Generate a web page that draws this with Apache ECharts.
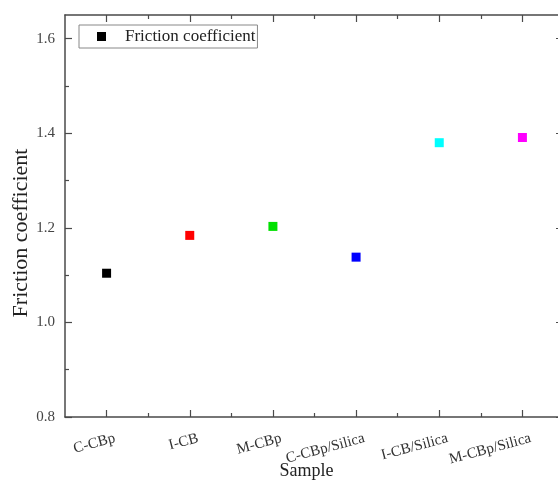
<!DOCTYPE html>
<html>
<head>
<meta charset="utf-8">
<script src="https://cdn.jsdelivr.net/npm/echarts@6/dist/echarts.min.js"></script>
<style>html,body{margin:0;padding:0;background:#fff}#c{width:558px;height:484px}</style>
</head>
<body>
<div id="c"></div>
<script>
const categories = ['C-CBp', 'I-CB', 'M-CBp', 'C-CBp/Silica', 'I-CB/Silica', 'M-CBp/Silica'];
const frictionValues = [1.104, 1.184, 1.203, 1.138, 1.380, 1.391];
const pointColors = ['#000000', '#ff0000', '#00e000', '#0000ff', '#00ffff', '#ff00ff'];
const yTickLabels = [0.8, 1.0, 1.2, 1.4, 1.6];
const yMinorTicks = [0.9, 1.1, 1.3, 1.5];
const seriesName = 'Friction coefficient';

const font = '"Liberation Serif", "Times New Roman", serif';
const lineColor = '#4a4a4a';
const catPos = categories.map((c, i) => i + 1);
const xMinorTicks = [1.5, 2.5, 3.5, 4.5, 5.5];
const labelShift = 0.1;

const tickStyle = { color: lineColor, width: 1.2 };
function frameX(position, ticks, len, showLine) {
  return {
    type: 'value', position: position, min: 0.5, max: 6.5,
    axisLine: { show: showLine, onZero: false, lineStyle: { color: lineColor, width: 1.5 } },
    axisTick: { show: true, inside: true, length: len, customValues: ticks, lineStyle: tickStyle },
    axisLabel: { show: false }, splitLine: { show: false }
  };
}

const chart = echarts.init(document.getElementById('c'));
chart.setOption({
  backgroundColor: '#fff',
  animation: false,
  grid: { left: 65, top: 15, right: -6, bottom: 67, containLabel: false, outerBoundsMode: 'none' },
  legend: {
    left: 79, top: 25,
    orient: 'vertical',
    data: [{ name: seriesName, itemStyle: { color: '#000' } }],
    icon: 'rect', itemWidth: 9, itemHeight: 9,
    borderColor: '#888', borderWidth: 1,
    padding: [3, 2, 3, 18],
    textStyle: { fontFamily: font, fontSize: 17, color: '#222', padding: [0, 0, 0, 14] }
  },
  xAxis: [
    {
      type: 'value', position: 'bottom', min: 0.5, max: 6.5,
      name: 'Sample', nameLocation: 'middle', nameGap: 45, nameMoveOverlap: false,
      nameTextStyle: { fontFamily: font, fontSize: 18, color: '#222', padding: [0, 16, 0, 0] },
      axisLine: { show: true, onZero: false, lineStyle: { color: lineColor, width: 1.5 } },
      axisTick: { show: true, inside: true, length: 7, customValues: catPos, lineStyle: tickStyle },
      axisLabel: {
        show: true, rotate: 15, margin: 21,
        customValues: catPos.map(v => v + labelShift),
        formatter: v => categories[Math.round(v - labelShift) - 1] || '',
        fontFamily: font, fontSize: 15, color: '#333'
      },
      splitLine: { show: false }
    },
    frameX('bottom', xMinorTicks, 4, false),
    frameX('top', catPos, 7, true),
    frameX('top', xMinorTicks, 4, false)
  ],
  yAxis: [
    {
      type: 'value', position: 'left', min: 0.8, max: 1.65,
      name: 'Friction coefficient', nameLocation: 'middle', nameGap: 33, nameRotate: 90, nameMoveOverlap: false,
      nameTextStyle: { fontFamily: font, fontSize: 22, color: '#222', padding: [0, 34, 0, 0] },
      axisLine: { show: true, onZero: false, lineStyle: { color: lineColor, width: 1.5 } },
      axisTick: { show: true, inside: true, length: 7, customValues: yTickLabels, lineStyle: tickStyle },
      axisLabel: {
        show: true, margin: 10, customValues: yTickLabels,
        formatter: v => v.toFixed(1),
        fontFamily: font, fontSize: 15, color: '#444'
      },
      splitLine: { show: false }
    },
    {
      type: 'value', position: 'left', min: 0.8, max: 1.65,
      axisLine: { show: false, onZero: false },
      axisTick: { show: true, inside: true, length: 4, customValues: yMinorTicks, lineStyle: tickStyle },
      axisLabel: { show: false }, splitLine: { show: false }
    },
    {
      type: 'value', position: 'right', min: 0.8, max: 1.65,
      axisLine: { show: true, onZero: false, lineStyle: { color: lineColor, width: 1.5 } },
      axisTick: { show: true, inside: true, length: 8, customValues: yTickLabels, lineStyle: tickStyle },
      axisLabel: { show: false }, splitLine: { show: false }
    }
  ],
  series: [{
    name: seriesName,
    type: 'scatter',
    xAxisIndex: 0, yAxisIndex: 0,
    symbol: 'rect', symbolSize: 9,
    itemStyle: { color: '#000', opacity: 1 },
    data: frictionValues.map((v, i) => ({ value: [catPos[i], v], itemStyle: { color: pointColors[i], opacity: 1 } }))
  }]
});
</script>
</body>
</html>
